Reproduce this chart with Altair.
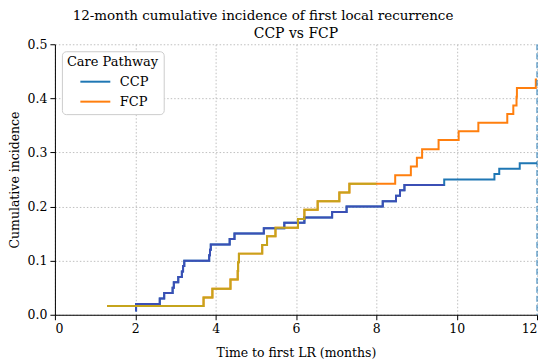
import altair as alt
import pandas as pd

# ---- data ----
ccp_t = [2.00, 2.02, 2.61, 2.72, 2.93, 2.96, 3.07, 3.16, 3.19, 3.22, 3.84, 3.86, 3.88,
         4.35, 4.47, 5.20, 5.71, 6.21, 6.90, 7.26, 8.16, 8.49, 8.59, 8.70, 9.69,
         10.94, 11.06, 11.57, 12.00]
ccp_y = [0.008, 0.02, 0.03, 0.04, 0.05, 0.06, 0.07, 0.08, 0.09, 0.10, 0.11, 0.12, 0.13,
         0.14, 0.15, 0.16, 0.17, 0.18, 0.19, 0.20, 0.21, 0.22, 0.23, 0.24, 0.25,
         0.26, 0.27, 0.28, 0.28]
fcp_t = [1.30, 3.70, 3.92, 4.37, 4.55, 4.56, 4.58, 5.16, 5.28, 5.49, 6.05, 6.21, 6.54,
         7.08, 7.33, 8.47, 8.86, 9.01, 9.14, 9.55, 10.05, 10.54, 11.26, 11.41, 11.49,
         11.50, 11.97, 12.00]
fcp_y = [0.016, 0.032, 0.048, 0.065, 0.081, 0.097, 0.113, 0.129, 0.145, 0.161, 0.177,
         0.194, 0.210, 0.226, 0.242, 0.258, 0.274, 0.290, 0.306, 0.323, 0.339, 0.355,
         0.371, 0.387, 0.403, 0.419, 0.435, 0.435]
series = ["CCP", "FCP"]
early_cutoff = {"CCP": 9.69, "FCP": 8.0}
x_ticks = [0, 2, 4, 6, 8, 10, 12]
y_ticks = [0.0, 0.1, 0.2, 0.3, 0.4, 0.5]
vline_x = [12]
title_line1 = "12-month cumulative incidence of first local recurrence"
title_line2 = "CCP vs FCP"

FONT = "DejaVu Serif"

rows = []
early_rows = []
for name, ts, ys in (("CCP", ccp_t, ccp_y), ("FCP", fcp_t, fcp_y)):
    cut = early_cutoff[name]
    last = None
    for i, (t, y) in enumerate(zip(ts, ys)):
        rows.append({"key": name, "t": t, "y": y, "o": i})
        if t < cut:
            early_rows.append({"key": name + " early", "t": t, "y": y, "o": i})
            last = y
    early_rows.append({"key": name + " early", "t": cut, "y": last, "o": 999})
df = pd.DataFrame(rows)
df_early = pd.DataFrame(early_rows)

color_scale = alt.Scale(
    domain=["CCP", "FCP", "CCP early", "FCP early"],
    range=["#1f77b4", "#ff7f0e", "#3b4fb5", "#c5a41c"],
)

x_enc = alt.X("t:Q", scale=alt.Scale(domain=[0, 12], nice=False),
              axis=alt.Axis(values=x_ticks, title="Time to first LR (months)", format="d"))
y_enc = alt.Y("y:Q", scale=alt.Scale(domain=[0, 0.5], nice=False),
              axis=alt.Axis(values=y_ticks, title="Cumulative incidence", format=".1f"))

legend = alt.Legend(
    title="Care Pathway", values=series, orient="none", legendX=7, legendY=7,
    symbolType="M-3,0H3", symbolSize=100, symbolStrokeWidth=2,
    symbolOffset=22, labelOffset=18, rowPadding=6, titlePadding=6,
    padding=5, strokeColor="#cccccc", fillColor="#ffffff", cornerRadius=4,
    titleFont=FONT, titleFontSize=13, titleFontWeight="normal", titleColor="black",
    labelFont=FONT, labelFontSize=13, labelColor="black",
)

lines = alt.Chart(df).mark_line(interpolate="step-after", strokeWidth=2).encode(
    x=x_enc, y=y_enc, order="o:Q",
    color=alt.Color("key:N", scale=color_scale, legend=legend),
)
early = alt.Chart(df_early).mark_line(interpolate="step-after", strokeWidth=2).encode(
    x="t:Q", y="y:Q", order="o:Q",
    color=alt.Color("key:N", scale=color_scale, legend=legend),
)
vline = alt.Chart(pd.DataFrame({"t": vline_x})).mark_rule(
    color="#1f77b4", strokeDash=[6, 3], strokeWidth=1
).encode(x="t:Q")

sub = alt.Chart(pd.DataFrame({"s": [title_line2]})).mark_text(
    font=FONT, fontSize=14, color="black", align="center", baseline="alphabetic"
).encode(x=alt.value(241.5), y=alt.value(-6), text="s:N")

chart = alt.layer(lines, early, vline, sub).properties(
    width=483, height=271,
    title=alt.Title(title_line1, font=FONT, fontSize=13.5, fontWeight="normal",
                    color="black", anchor="middle", dx=-33, offset=5),
    autosize=alt.AutoSizeParams(type="none"),
    padding={"left": 47, "top": 36, "right": 5, "bottom": 47},
).configure_view(stroke=None).configure_axis(
    labelFont=FONT, titleFont=FONT, labelFontSize=12.5, titleFontSize=12.5,
    labelColor="black", titleColor="black", titleFontWeight="normal",
    domainColor="black", domainWidth=1, tickColor="black", tickSize=5, tickWidth=1,
    gridColor="#b0b0b0", gridDash=[1.5, 2], gridWidth=0.8,
    labelPadding=3,
).configure_axisX(titlePadding=11).configure_axisY(titlePadding=6)

chart.save("out.html", embed_options={"renderer": "svg", "actions": False})
